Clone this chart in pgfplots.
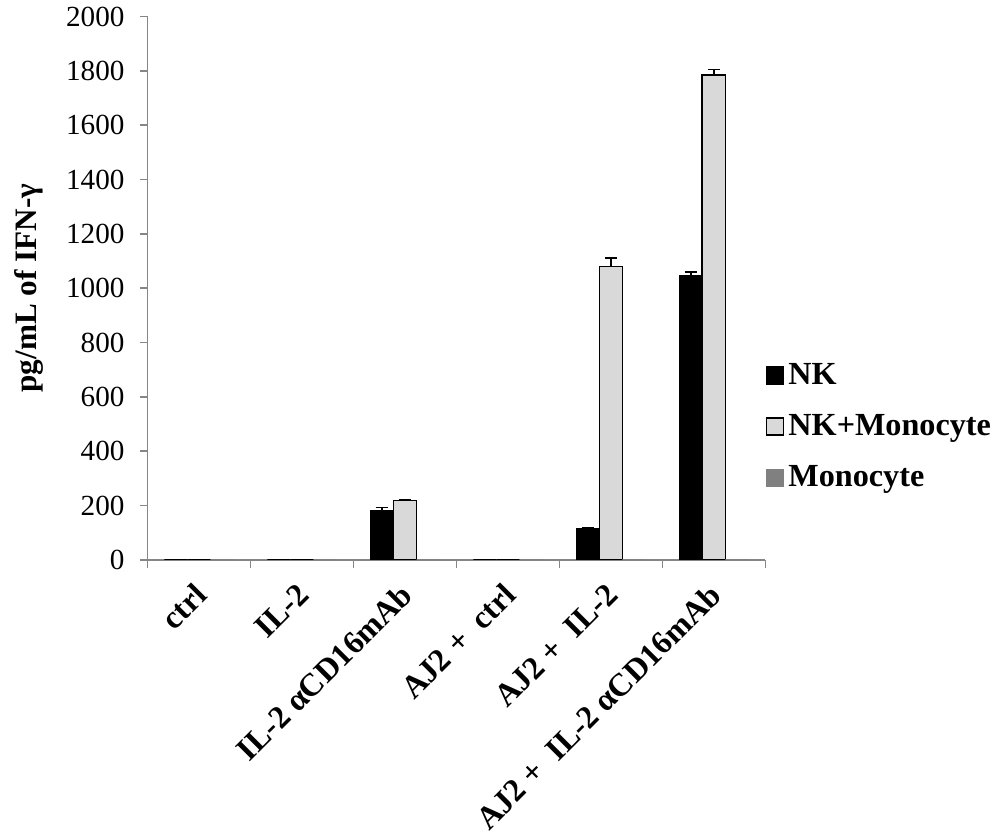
\documentclass[border=0pt]{standalone}
\usepackage{fontspec}
\setmainfont{Liberation Serif}
\usepackage{pgfplots}
\pgfplotsset{compat=1.18}
\definecolor{axgray}{HTML}{868686}
\definecolor{nkmono}{HTML}{D9D9D9}
\definecolor{mono}{HTML}{808080}
\newcommand{\dsp}{\hspace{0.25em}}
\begin{document}
\begin{tikzpicture}
\begin{axis}[
  width=307pt, height=270pt, scale only axis,
  ybar, bar width=11.5pt, ybar=0pt,
  xmin=-0.5, xmax=5.5, ymin=0, ymax=2000,
  axis x line*=bottom, axis y line*=left,
  axis line style={axgray, line width=0.8pt},
  every tick/.style={axgray, line width=0.8pt},
  tick align=outside, major tick length=4pt,
  xtick={-0.5,0.5,1.5,2.5,3.5,4.5,5.5}, xticklabels={},
  extra x ticks={0,1,2,3,4,5},
  extra x tick labels={ctrl, IL-2, IL-2 αCD16mAb, AJ2 +\dsp{} ctrl, AJ2 +\dsp{} IL-2, AJ2 +\dsp{} IL-2 αCD16mAb},
  extra x tick style={major tick length=0pt,
    tick label style={rotate=45, anchor=north east, font=\fontsize{16}{18}\selectfont\bfseries, inner sep=0pt, yshift=-5.3pt, xshift=-9.7pt}},
  ytick distance=200,
  yticklabel style={font=\fontsize{14.5}{16}\selectfont, /pgf/number format/assume math mode=true, /pgf/number format/1000 sep={}, xshift=-4pt},
  ylabel={pg/mL of IFN-γ},
  ylabel shift=1pt,
  ylabel style={font=\fontsize{15.5}{18}\selectfont\bfseries, inner ysep=7pt},
  legend style={at={(1.0,0.245)}, anchor=west, draw=none, fill=none,
    font=\fontsize{16}{18}\selectfont\bfseries, row sep=9.5pt, inner sep=0pt,
    /tikz/every even column/.append style={column sep=3.5pt}},
  legend cell align=left,
  legend image code/.code={\draw[#1] (0pt,-4.25pt) rectangle (8.5pt,4.25pt);},
]
\addplot[fill=black, draw=black, line width=0.6pt,
  error bars/.cd, y dir=plus, y explicit,
  error bar style={black, line width=0.8pt},
  error mark options={black, rotate=90, mark size=3pt, line width=0.8pt}]
  coordinates {(0,0) +- (0,0) (1,0) +- (0,0) (2,180) +- (0,12) (3,0) +- (0,0) (4,116) +- (0,0) (5,1045) +- (0,15)};
\addplot[fill=nkmono, draw=black, line width=0.8pt,
  error bars/.cd, y dir=plus, y explicit,
  error bar style={black, line width=0.8pt},
  error mark options={black, rotate=90, mark size=3pt, line width=0.8pt}]
  coordinates {(0,0) +- (0,0) (1,0) +- (0,0) (2,218) +- (0,2) (3,0) +- (0,0) (4,1080) +- (0,32) (5,1785) +- (0,20)};
\addplot[fill=mono, draw=mono, line width=0.6pt]
  coordinates {(0,0) (1,0) (2,0) (3,0) (4,0) (5,0)};
\legend{NK, NK+Monocyte, Monocyte}
\end{axis}
\end{tikzpicture}
\end{document}
